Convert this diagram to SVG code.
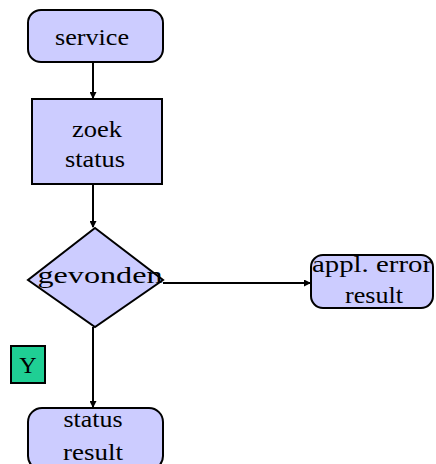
<svg xmlns="http://www.w3.org/2000/svg" width="436" height="464" viewBox="0 0 436 464">
<style>
.n{fill:#ccccff;stroke:#000;stroke-width:2}
.t{font-family:"Liberation Serif","Times New Roman",serif;font-size:24px;fill:#000;text-anchor:middle}
.c{stroke:#000;stroke-width:2;fill:none}
</style>
<defs>
<marker id="a" markerWidth="7" markerHeight="7" refX="6" refY="3.5" orient="auto" markerUnits="userSpaceOnUse">
<path d="M0,0 L7,3.5 L0,7 Z" fill="#000"/>
</marker>
</defs>
<rect width="436" height="464" fill="#fff"/>
<g id="connectors">
<line class="c" x1="93" y1="62" x2="93" y2="98" marker-end="url(#a)"/>
<line class="c" x1="93" y1="184" x2="93" y2="227" marker-end="url(#a)"/>
<line class="c" x1="163" y1="283" x2="310" y2="283" marker-end="url(#a)"/>
<line class="c" x1="93" y1="327" x2="93" y2="407" marker-end="url(#a)"/>
</g>
<g id="service">
<rect class="n" x="28" y="10" width="135" height="52" rx="13"/>
<text class="t" x="92" y="45" textLength="74" lengthAdjust="spacingAndGlyphs">service</text>
</g>
<g id="zoek_status">
<rect class="n" x="32" y="99" width="130" height="85"/>
<text class="t" x="97" y="137" textLength="50" lengthAdjust="spacingAndGlyphs">zoek</text>
<text class="t" x="95" y="167" textLength="60" lengthAdjust="spacingAndGlyphs">status</text>
</g>
<g id="gevonden">
<polygon class="n" points="95,228 163,280 95,327 28,280"/>
<text class="t" x="100" y="283" textLength="125" lengthAdjust="spacingAndGlyphs">gevonden</text>
</g>
<g id="appl_error_result">
<rect class="n" x="311" y="255" width="122" height="53" rx="12"/>
<text class="t" x="372" y="272" textLength="120" lengthAdjust="spacingAndGlyphs">appl. error</text>
<text class="t" x="374" y="303" textLength="58" lengthAdjust="spacingAndGlyphs">result</text>
</g>
<g id="Y">
<rect x="11" y="346" width="34" height="37" fill="#1fcf94" stroke="#000" stroke-width="2"/>
<text class="t" x="28" y="373">Y</text>
</g>
<g id="status_result">
<rect class="n" x="28" y="408" width="135" height="62" rx="14"/>
<text class="t" x="93" y="427" textLength="59" lengthAdjust="spacingAndGlyphs">status</text>
<text class="t" x="93" y="460" textLength="60" lengthAdjust="spacingAndGlyphs">result</text>
</g>
</svg>
